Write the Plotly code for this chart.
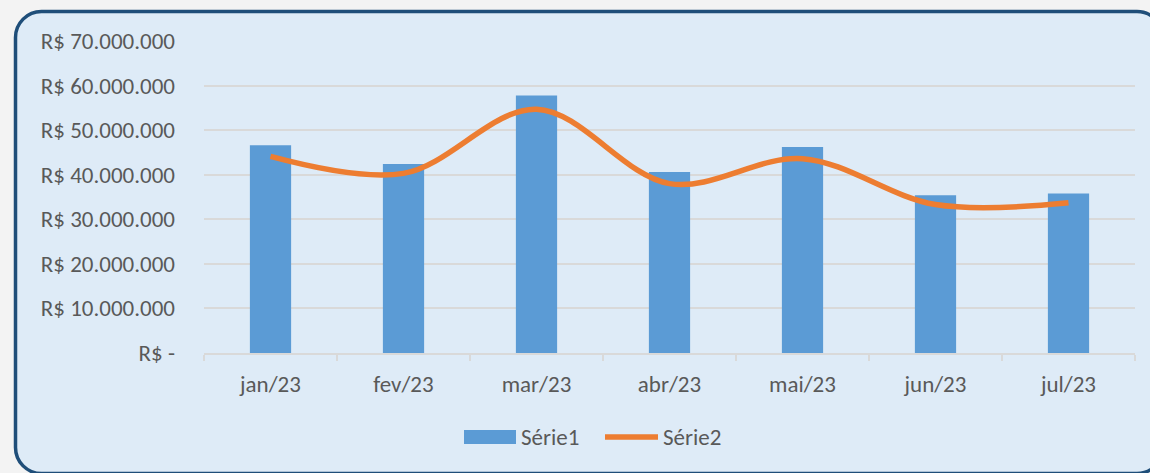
import plotly.graph_objects as go

categories = ["jan/23", "fev/23", "mar/23", "abr/23", "mai/23", "jun/23", "jul/23"]
serie1 = [46600000, 42400000, 57800000, 40600000, 46200000, 35400000, 35800000]
serie2 = [44100000, 40300000, 54700000, 38000000, 43600000, 33300000, 33700000]
y_tickvals = [0, 10000000, 20000000, 30000000, 40000000, 50000000, 60000000, 70000000]
y_ticktext = ["R$ -", "R$ 10.000.000", "R$ 20.000.000", "R$ 30.000.000", "R$ 40.000.000",
              "R$ 50.000.000", "R$ 60.000.000", "R$ 70.000.000"]
series_names = ["Série1", "Série2"]

W, H = 1150, 473
L, R, T, B = 204, 15, 41, 120
pw, ph = W - L - R, H - T - B

def px(x):
    return (x - L) / pw

def py(y):
    return (H - B - y) / ph

def P(x, y):
    return f"{px(x)},{py(y)}"

FONT = "Carlito, Calibri, Lato, sans-serif"
BAR_C, LINE_C, TXT_C = "#5b9bd5", "#ed7d31", "#595959"

fig = go.Figure()
fig.add_trace(go.Bar(x=categories, y=serie1, name=series_names[0],
                     marker=dict(color=BAR_C, line=dict(width=0)), showlegend=False))
fig.add_trace(go.Scatter(x=categories, y=serie2, name=series_names[1], mode="lines", showlegend=False,
                         line=dict(color=LINE_C, width=5.5, shape="spline", smoothing=1.0)))

# rounded chart-area border (circular corners via cubic beziers)
x0, x1, y0, y1, r = 15.5, 1163, 11.5, 473.5, 26
k = 0.5523 * r
path = (f"M {P(x0, y0 + r)} "
        f"C {P(x0, y0 + r - k)} {P(x0 + r - k, y0)} {P(x0 + r, y0)} "
        f"L {P(x1 - r, y0)} "
        f"C {P(x1 - r + k, y0)} {P(x1, y0 + r - k)} {P(x1, y0 + r)} "
        f"L {P(x1, y1 - r)} "
        f"C {P(x1, y1 - r + k)} {P(x1 - r + k, y1)} {P(x1 - r, y1)} "
        f"L {P(x0 + r, y1)} "
        f"C {P(x0 + r - k, y1)} {P(x0, y1 - r + k)} {P(x0, y1 - r)} Z")
fig.add_shape(type="path", path=path, xref="paper", yref="paper", layer="below",
              fillcolor="#deebf7", line=dict(color="#1f4e79", width=3.5))

# legend (Excel-style swatches)
ly = 437
fig.add_shape(type="rect", xref="paper", yref="paper", x0=px(464), x1=px(516), y0=py(444), y1=py(430),
              fillcolor=BAR_C, line=dict(width=0))
fig.add_annotation(xref="paper", yref="paper", x=px(519), y=py(ly), text=series_names[0], showarrow=False,
                   xanchor="left", yanchor="middle", font=dict(size=23, color=TXT_C, family=FONT))
fig.add_shape(type="line", xref="paper", yref="paper", x0=px(605), x1=px(658), y0=py(ly), y1=py(ly),
              line=dict(color=LINE_C, width=5.5))
fig.add_annotation(xref="paper", yref="paper", x=px(661), y=py(ly), text=series_names[1], showarrow=False,
                   xanchor="left", yanchor="middle", font=dict(size=23, color=TXT_C, family=FONT))

fig.update_layout(
    width=W, height=H,
    margin=dict(l=L, r=R, t=T, b=B),
    paper_bgcolor="#f3f3f3",
    plot_bgcolor="rgba(0,0,0,0)",
    font=dict(family=FONT, size=23, color=TXT_C),
    bargap=0.69,
    showlegend=False,
    xaxis=dict(type="category", showgrid=False, showline=True, linecolor="#d9d9d9", linewidth=1.5,
               ticks="outside", tickson="boundaries", ticklen=6, tickcolor="#d9d9d9", tickwidth=1.5,
               ticklabelstandoff=10, range=[-0.5, 6.5]),
    yaxis=dict(range=[0, 70000000], tickvals=y_tickvals, ticktext=y_ticktext,
               showgrid=True, gridcolor="#d9d9d9", gridwidth=1.5, zeroline=False,
               ticks="", ticklabelstandoff=28, showline=False),
)

fig.write_html("out.html", config={"displayModeBar": False},
               post_script="document.body.style.margin='0';document.body.style.background='#f3f3f3';")
